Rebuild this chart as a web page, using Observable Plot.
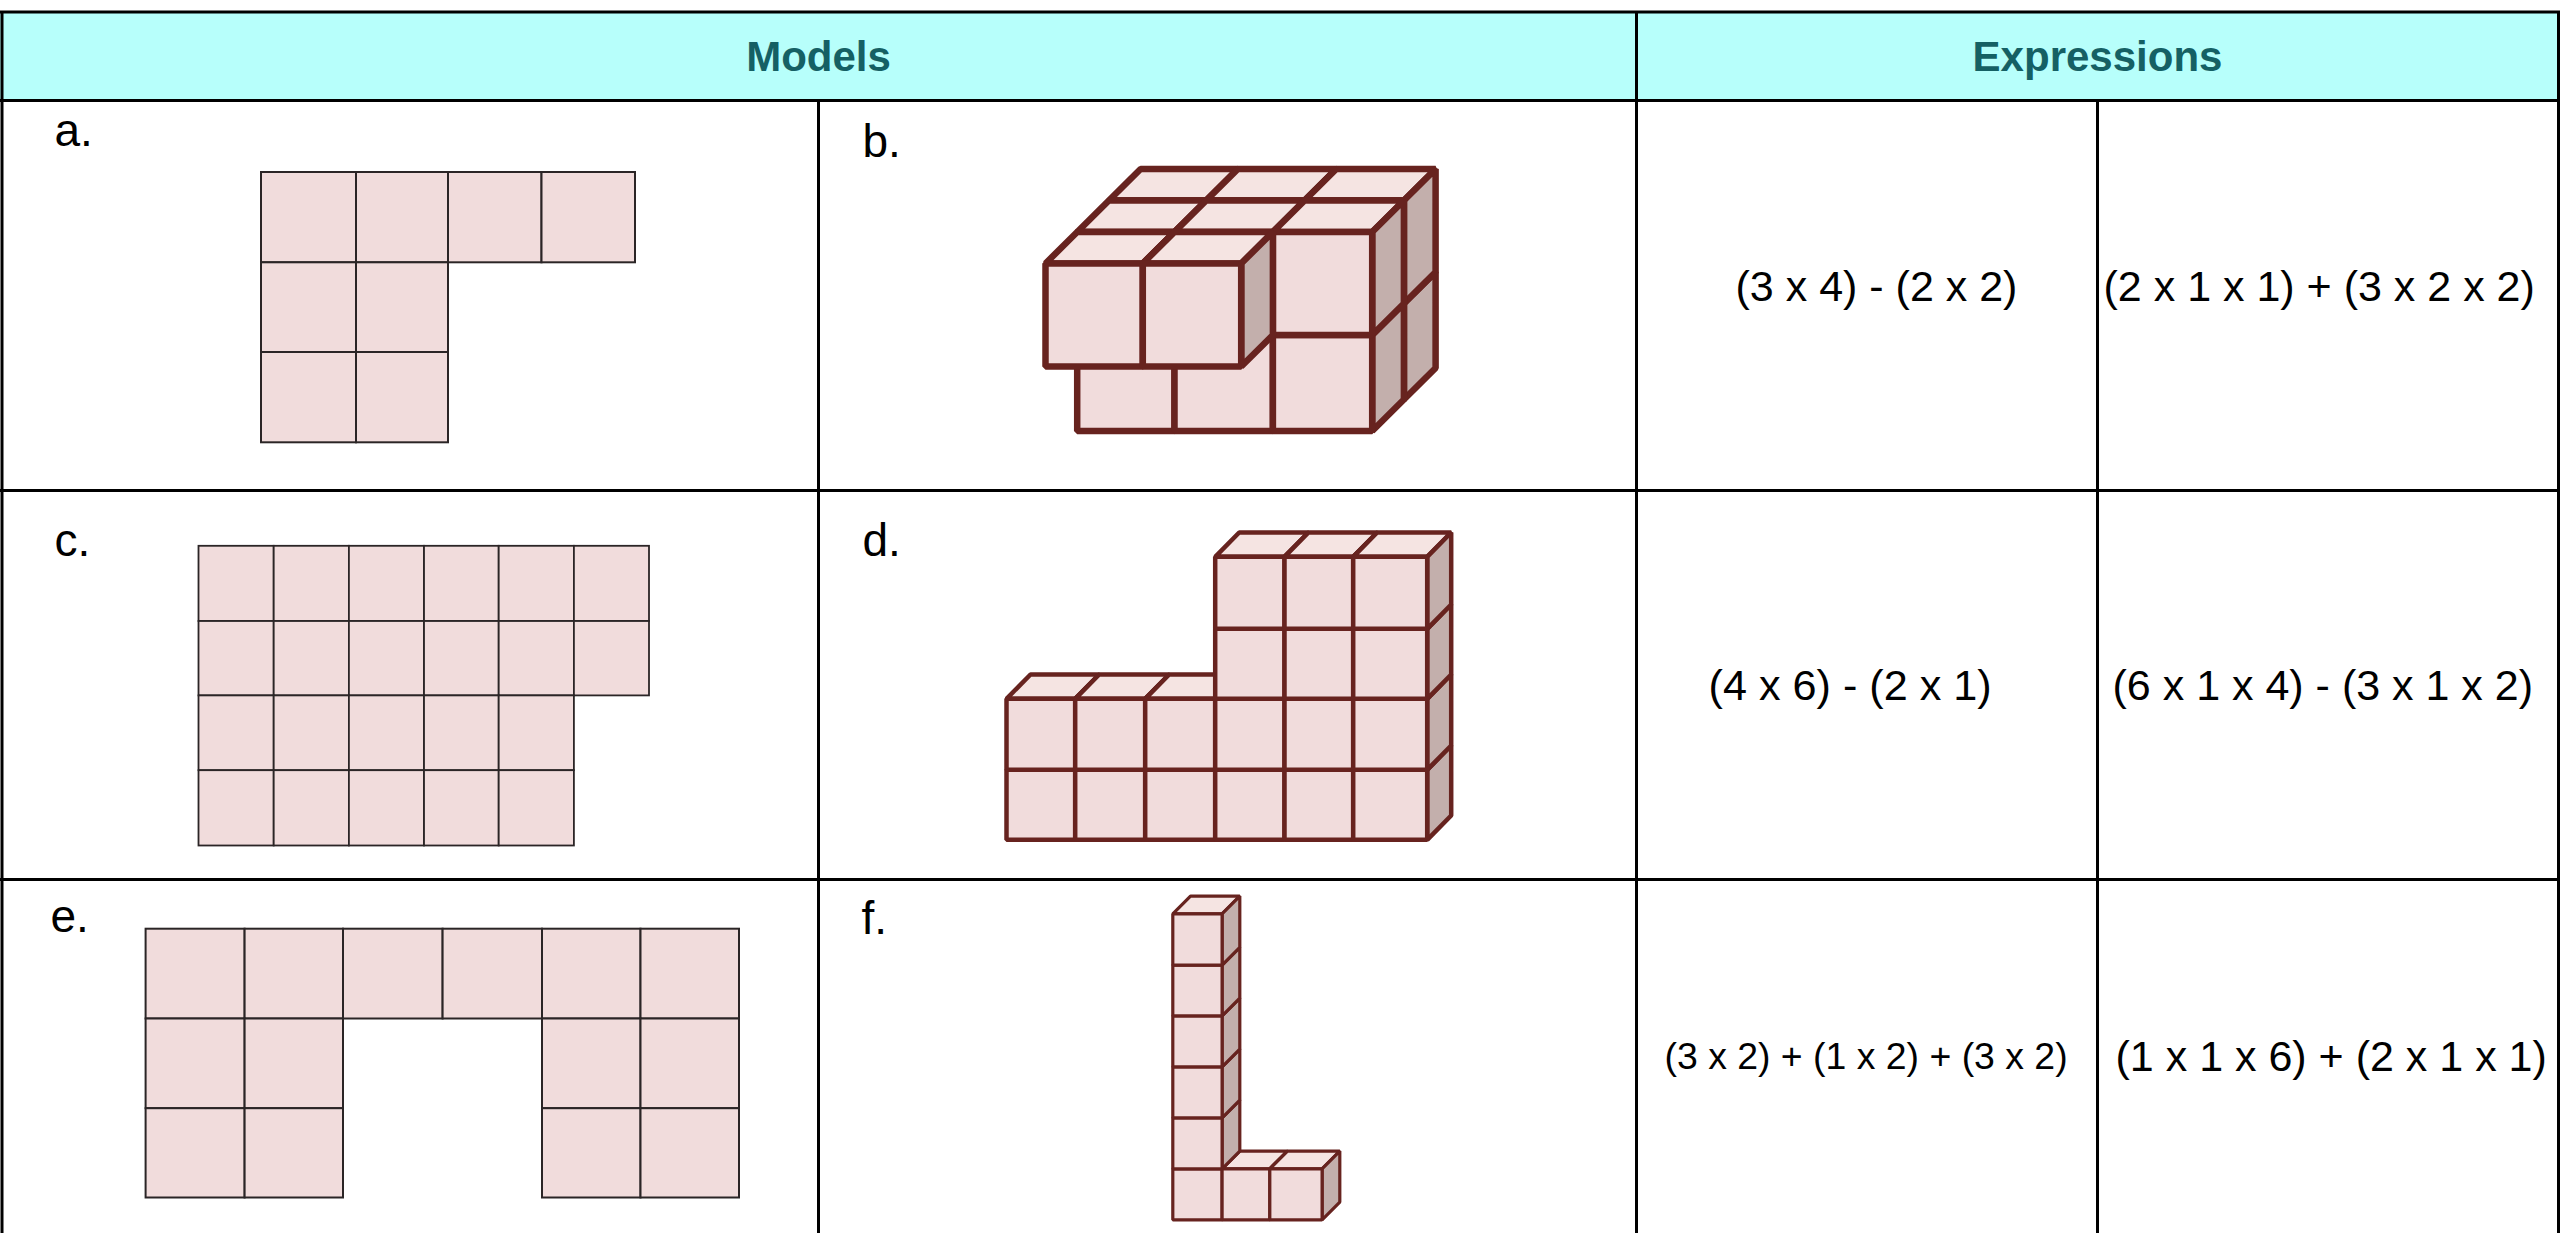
<!DOCTYPE html>
<html>
<head>
<meta charset="utf-8">
<script src="https://cdn.jsdelivr.net/npm/d3@7"></script>
<script src="https://cdn.jsdelivr.net/npm/@observablehq/plot@0.6"></script>
<style>html,body{margin:0;padding:0;background:#fff;width:2560px;height:1233px;overflow:hidden}svg{display:block}</style>
</head>
<body>
<div id="chart"></div>
<script>
// Table text
const headers = ["Models", "Expressions"];
const labels = ["a.", "b.", "c.", "d.", "e.", "f."];
const expressions = [
  "(3 x 4) - (2 x 2)", "(2 x 1 x 1) + (3 x 2 x 2)",
  "(4 x 6) - (2 x 1)", "(6 x 1 x 4) - (3 x 1 x 2)",
  "(3 x 2) + (1 x 2) + (3 x 2)", "(1 x 1 x 6) + (2 x 1 x 1)"
];

// Flat models: unit squares as [column, row], row 0 on top
const squaresA = [[0,0],[1,0],[2,0],[3,0],[0,1],[1,1],[0,2],[1,2]];
const squaresC = [
  [0,0],[1,0],[2,0],[3,0],[4,0],[5,0],
  [0,1],[1,1],[2,1],[3,1],[4,1],[5,1],
  [0,2],[1,2],[2,2],[3,2],[4,2],
  [0,3],[1,3],[2,3],[3,3],[4,3]
];
const squaresE = [
  [0,0],[1,0],[2,0],[3,0],[4,0],[5,0],
  [0,1],[1,1],[4,1],[5,1],
  [0,2],[1,2],[4,2],[5,2]
];

// Solid models: unit cubes as [column, row, depth], row 0 at the bottom, depth 0 in front
const cubesB = [
  [0,0,2],[1,0,2],[2,0,2],[0,1,2],[1,1,2],[2,1,2],
  [0,0,1],[1,0,1],[2,0,1],[0,1,1],[1,1,1],[2,1,1],
  [0,1,0],[1,1,0]
];
const cubesD = [
  [0,0,0],[1,0,0],[2,0,0],[3,0,0],[4,0,0],[5,0,0],
  [0,1,0],[1,1,0],[2,1,0],[3,1,0],[4,1,0],[5,1,0],
  [3,2,0],[4,2,0],[5,2,0],
  [3,3,0],[4,3,0],[5,3,0]
];
const cubesF = [
  [0,0,0],[1,0,0],[2,0,0],
  [0,1,0],[0,2,0],[0,3,0],[0,4,0],[0,5,0]
];

// Layout, in the picture's own units
const W = 2560, H = 1233;
const gridX = [1636], gridXLow = [818, 2097], edgeX = [1.5, 2558];
const gridY = [11.5, 100, 490, 879];
const headerCells = [{x1: 0, x2: 1636}, {x1: 1636, x2: 2560}];
const headerAt = [818, 2097];
const labelAt = [[54,131],[862,142],[54,541],[862,540.3],[50,917],[861,918.3]];
const exprAt = [
  [1735,287,43],[2103,287,43],
  [1708,686,43.2],[2112,686,43],
  [1664,1057,37.4],[2115,1057,43]
];
const flats = [
  {cells: squaresA, xs: [261,356,448,541.5,635], ys: [172,262.3,352,442.3], sw: 2},
  {cells: squaresC, xs: [198.5,273.7,348.9,424,498.7,573.9,649], ys: [545.8,621,695.4,770.2,845.5], sw: 1.8},
  {cells: squaresE, xs: [145.6,244.6,343,442.6,542,640.5,739], ys: [928.7,1018.5,1108.2,1197.5], sw: 2}
];
const solids = [
  {cubes: cubesB, ox: 1045, oy: 462, cols: [0,97.3,195.7,295], rows: [0,96,199], dx: 31.7, dy: 31.5, sw: 6.5, id: "b"},
  {cubes: cubesD, ox: 1006, oy: 839.3, cols: [0,68.7,138.7,208.7,278,346.7,420.7], rows: [0,70,141,211,283], dx: 24, dy: 24.3, sw: 4.5, id: "d"},
  {cubes: cubesF, ox: 1172.3, oy: 1219.3, cols: [0,49.3,97,149.3], rows: [0,51,102,153,204,254.7,306], dx: 17.7, dy: 17.7, sw: 3.2, id: "f"}
];

const cellFill = "#f1dcdc", topFill = "#f5e4e2", sideFill = "#c3afac";
const cubeStroke = "#67231f", flatStroke = "#2b2526";

const flatRect = flats.flatMap(f => f.cells.map(([c, r]) => ({
  x1: f.xs[c], x2: f.xs[c + 1], y1: f.ys[r], y2: f.ys[r + 1], sw: f.sw
})));

function faces(s) {
  const out = [];
  const order = [...s.cubes].sort((a, b) => b[2] - a[2] || a[1] - b[1] || a[0] - b[0]);
  order.forEach(([c, r, d], i) => {
    const px = (cc, rr, dd) => [s.ox + s.cols[cc] + dd * s.dx, s.oy - s.rows[rr] - dd * s.dy];
    const polys = [
      [topFill, [px(c,r+1,d), px(c+1,r+1,d), px(c+1,r+1,d+1), px(c,r+1,d+1)]],
      [sideFill, [px(c+1,r,d), px(c+1,r,d+1), px(c+1,r+1,d+1), px(c+1,r+1,d)]],
      [cellFill, [px(c,r,d), px(c+1,r,d), px(c+1,r+1,d), px(c,r+1,d)]]
    ];
    polys.forEach(([fill, pts], j) => {
      [...pts, pts[0], pts[1]].forEach(p => out.push({x: p[0], y: p[1], fill, face: `${s.id}-${i}-${j}`}));
    });
  });
  return out;
}

const solidMarks = solids.map(s => Plot.line(faces(s), {
  x: "x", y: "y", z: "face", fill: "fill", stroke: cubeStroke, strokeWidth: s.sw,
  strokeLinejoin: "miter", strokeLinecap: "butt", curve: "linear"
}));

const font = "Liberation Sans, Arial, sans-serif";
const lineBlack = "#000";

const chart = Plot.plot({
  width: W, height: H,
  margin: 0,
  x: {domain: [0, W], range: [0, W], axis: null},
  y: {domain: [0, H], range: [0, H], axis: null},
  color: {type: "identity"},
  style: {background: "#fff", fontFamily: font},
  marks: [
    Plot.rect(headerCells, {x1: "x1", x2: "x2", y1: () => gridY[0], y2: () => gridY[1], fill: "#b7fffb"}),
    Plot.rect(flatRect, {x1: "x1", x2: "x2", y1: "y1", y2: "y2", fill: cellFill, stroke: flatStroke, strokeWidth: d => d.sw}),
    ...solidMarks,
    Plot.ruleY(gridY, {x1: 0, x2: W, stroke: lineBlack, strokeWidth: 3}),
    Plot.ruleX(gridX, {y1: gridY[0], y2: H, stroke: lineBlack, strokeWidth: 3}),
    Plot.ruleX(gridXLow, {y1: gridY[1], y2: H, stroke: lineBlack, strokeWidth: 3}),
    Plot.ruleX(edgeX, {y1: gridY[0], y2: H, stroke: lineBlack, strokeWidth: 3}),
    Plot.text(headers, {x: (d, i) => headerAt[i], y: 57, text: d => d, fill: "#156064", fontSize: 42, fontWeight: "bold", fontFamily: font, textAnchor: "middle", lineAnchor: "middle"}),
    Plot.text(labels, {x: (d, i) => labelAt[i][0], y: (d, i) => labelAt[i][1], text: d => d, fill: "#000", fontSize: 46, fontFamily: font, textAnchor: "start", lineAnchor: "middle"}),
    Plot.text(expressions, {x: (d, i) => exprAt[i][0], y: (d, i) => exprAt[i][1], text: d => d, fill: "#000", fontSize: (d, i) => exprAt[i][2], fontFamily: font, textAnchor: "start", lineAnchor: "middle"})
  ]
});
document.getElementById("chart").appendChild(chart);
</script>
</body>
</html>
